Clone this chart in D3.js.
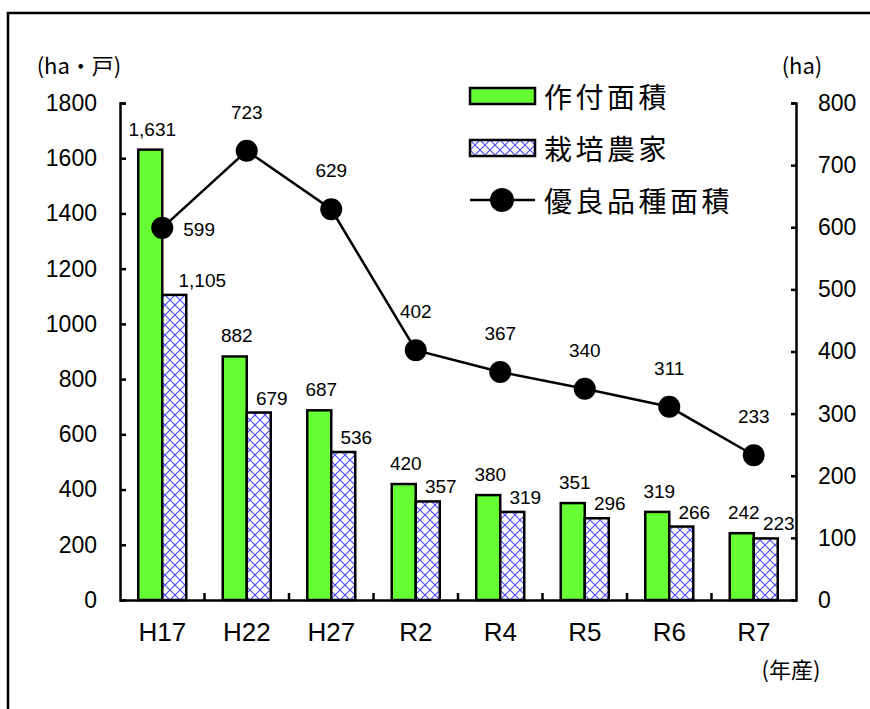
<!DOCTYPE html>
<html>
<head>
<meta charset="utf-8">
<script src="https://cdn.jsdelivr.net/npm/d3@7"></script>
<style>
  body { margin: 0; background: #fff; }
  svg { display: block; font-family: "Liberation Sans", "Noto Sans CJK JP", sans-serif; }
</style>
</head>
<body>
<svg id="chart" width="870" height="709"></svg>
<script>
// ---- data ----
const categories = ["H17", "H22", "H27", "R2", "R4", "R5", "R6", "R7"];
const plantedArea = [1631, 882, 687, 420, 380, 351, 319, 242];      // 作付面積 (ha)
const farmers = [1105, 679, 536, 357, 319, 296, 266, 223];          // 栽培農家 (戸)
const goodVarietyArea = [599, 723, 629, 402, 367, 340, 311, 233];   // 優良品種面積 (ha)
const leftTicks = [0, 200, 400, 600, 800, 1000, 1200, 1400, 1600, 1800];
const rightTicks = [0, 100, 200, 300, 400, 500, 600, 700, 800];
const seriesNames = ["作付面積", "栽培農家", "優良品種面積"];

const svg = d3.select("#chart");
const mLeft = 120, mRight = 796, mTop = 103, mBottom = 600;

// pattern for crosshatch
const defs = svg.append("defs");
const pat = defs.append("pattern")
  .attr("id", "hatch").attr("patternUnits", "userSpaceOnUse")
  .attr("width", 10).attr("height", 10);
pat.append("rect").attr("width", 10).attr("height", 10).attr("fill", "#fff");
pat.append("path").attr("d", "M0,0 L10,10 M10,0 L0,10")
  .attr("stroke", "#4848ff").attr("stroke-width", 1.1);

// frame
svg.append("rect").attr("x", 8).attr("y", 13).attr("width", 1000).attr("height", 800)
  .attr("fill", "none").attr("stroke", "#000").attr("stroke-width", 2.5);

const x0 = d3.scaleBand().domain(categories).range([mLeft, mRight]).padding(0);
const x1 = d3.scaleBand().domain([0, 1]).range([0, x0.bandwidth()]).paddingInner(0).paddingOuter(0.76);
const yL = d3.scaleLinear().domain([0, 1800]).range([mBottom, mTop]);
const yR = d3.scaleLinear().domain([0, 800]).range([mBottom, mTop]);

const green = "#66ff33";

// bars
const g = svg.append("g");
categories.forEach((c, i) => {
  g.append("rect")
    .attr("x", x0(c) + x1(0)).attr("y", yL(plantedArea[i]))
    .attr("width", x1.bandwidth()).attr("height", yL(0) - yL(plantedArea[i]))
    .attr("fill", green).attr("stroke", "#000").attr("stroke-width", 2.5);
  g.append("rect")
    .attr("x", x0(c) + x1(1)).attr("y", yL(farmers[i]))
    .attr("width", x1.bandwidth()).attr("height", yL(0) - yL(farmers[i]))
    .attr("fill", "url(#hatch)").attr("stroke", "#000").attr("stroke-width", 2.5);
});

// axes
const axL = svg.append("g").attr("transform", `translate(${mLeft},0)`)
  .call(d3.axisLeft(yL).tickValues(leftTicks).tickFormat(d3.format("d"))
    .tickSizeInner(-6).tickSizeOuter(-6).tickPadding(23));
const axR = svg.append("g").attr("transform", `translate(${mRight},0)`)
  .call(d3.axisRight(yR).tickValues(rightTicks).tickFormat(d3.format("d"))
    .tickSizeInner(-5).tickSizeOuter(-5).tickPadding(22));
[axL, axR].forEach(ax => {
  ax.select(".domain").attr("stroke-width", 2.5);
  ax.selectAll(".tick line").attr("stroke-width", 2.5);
  ax.selectAll(".tick text").attr("font-size", 23).attr("fill", "#000")
    .attr("font-family", "Liberation Sans, sans-serif");
});

// x axis baseline and boundary ticks
const axX = svg.append("g").attr("transform", `translate(0,${mBottom})`)
  .call(d3.axisBottom(x0).tickSize(0).tickPadding(23));
axX.select(".domain").attr("stroke-width", 2.5);
axX.selectAll(".tick text").attr("font-size", 26).attr("fill", "#000")
  .attr("font-family", "Liberation Sans, sans-serif");
categories.slice(1).forEach(c => {
  svg.append("line").attr("x1", x0(c)).attr("x2", x0(c))
    .attr("y1", mBottom).attr("y2", mBottom - 7)
    .attr("stroke", "#000").attr("stroke-width", 2.5);
});

// line series
const lineGen = d3.line()
  .x((d, i) => x0(categories[i]) + x0.bandwidth() / 2)
  .y(d => yR(d));
svg.append("path").datum(goodVarietyArea).attr("d", lineGen)
  .attr("fill", "none").attr("stroke", "#000").attr("stroke-width", 2.5);
svg.selectAll("circle.pt").data(goodVarietyArea).join("circle")
  .attr("class", "pt")
  .attr("cx", (d, i) => x0(categories[i]) + x0.bandwidth() / 2)
  .attr("cy", d => yR(d)).attr("r", 11).attr("fill", "#000");

// labels
const fmt = d3.format(",");
const lab = svg.append("g").attr("font-size", 19).attr("fill", "#000")
  .attr("font-family", "Liberation Sans, sans-serif");
categories.forEach((c, i) => {
  lab.append("text")
    .attr("x", x0(c) + x1(0) + x1.bandwidth() / 2 + 2)
    .attr("y", yL(plantedArea[i]) - 14)
    .attr("text-anchor", "middle").text(fmt(plantedArea[i]));
  const bl = fmt(farmers[i]);
  lab.append("text")
    .attr("x", x0(c) + x1(1) + x1.bandwidth() / 2 + (bl.length > 3 ? 28 : 13))
    .attr("y", yL(farmers[i]) - 8)
    .attr("text-anchor", "middle").text(bl);
  const cx = x0(c) + x0.bandwidth() / 2, cy = yR(goodVarietyArea[i]);
  if (i === 0) {
    lab.append("text").attr("x", cx + 21).attr("y", cy + 8)
      .attr("text-anchor", "start").text(fmt(goodVarietyArea[i]));
  } else {
    lab.append("text").attr("x", cx).attr("y", cy - 32)
      .attr("text-anchor", "middle").text(fmt(goodVarietyArea[i]));
  }
});

// unit labels
const jp = "Noto Sans CJK JP, sans-serif";
svg.append("text").attr("x", 79).attr("y", 74).attr("text-anchor", "middle")
  .attr("font-size", 22).attr("font-family", jp).text("(ha・戸)");
svg.append("text").attr("x", 802).attr("y", 74).attr("text-anchor", "middle")
  .attr("font-size", 22).attr("font-family", jp).text("(ha)");
svg.append("text").attr("x", 791).attr("y", 678).attr("text-anchor", "middle")
  .attr("font-size", 22).attr("font-family", jp).text("(年産)");

// legend
const leg = svg.append("g");
const legY = [96, 148, 200];
leg.append("rect").attr("x", 470).attr("y", legY[0] - 8).attr("width", 65).attr("height", 16)
  .attr("fill", green).attr("stroke", "#000").attr("stroke-width", 2.5);
leg.append("rect").attr("x", 470).attr("y", legY[1] - 8).attr("width", 65).attr("height", 16)
  .attr("fill", "url(#hatch)").attr("stroke", "#000").attr("stroke-width", 2.5);
leg.append("line").attr("x1", 470).attr("x2", 535).attr("y1", legY[2]).attr("y2", legY[2])
  .attr("stroke", "#000").attr("stroke-width", 2.5);
leg.append("circle").attr("cx", 502).attr("cy", legY[2]).attr("r", 12).attr("fill", "#000");
seriesNames.forEach((s, i) => {
  leg.append("text").attr("x", 544).attr("y", legY[i]).attr("dominant-baseline", "central")
    .attr("font-size", 28).attr("letter-spacing", 3.5).attr("font-family", jp).text(s);
});
</script>
</body>
</html>
